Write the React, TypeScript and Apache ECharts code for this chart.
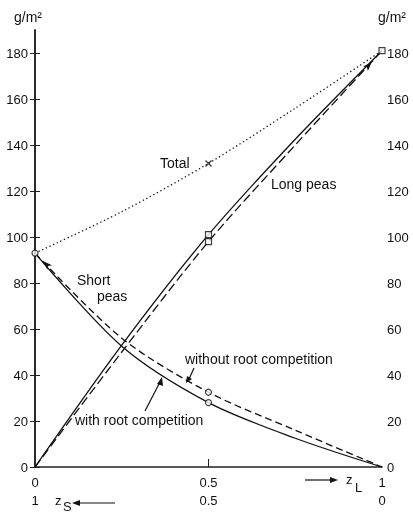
import React, { useEffect, useRef } from "react";
import * as echarts from "echarts";

const xs = [0, 0.25, 0.5, 0.75, 1];
const longWith = [0, 53, 101, 142.5, 181];
const longWithout = [0, 50, 98, 140, 181];
const shortWith = [93, 52.5, 28, 12.5, 0];
const shortWithout = [93, 56, 32.5, 16, 0];
const total = [93, 111, 132, 156, 181];
const yTicks = [0, 20, 40, 60, 80, 100, 120, 140, 160, 180];
const xTicks = [0, 0.5, 1];

const FONT = '"Liberation Sans", Arial, sans-serif';
const pts = (ys: number[]) => xs.map((x, i) => [x, ys[i]]);

export default function App() {
  const ref = useRef<HTMLDivElement>(null);
  useEffect(() => {
    if (!ref.current) return;
    const chart = echarts.init(ref.current, null, { renderer: "svg" });
    const axisLine = { show: true, lineStyle: { color: "#222", width: 1.6 } };
    const yAxisCommon = {
      type: "value",
      min: 0,
      max: 190,
      splitLine: { show: false },
      axisLine,
      axisTick: { show: true, inside: true, length: 5, customValues: yTicks, lineStyle: { color: "#222" } },
    };
    const mid = xs.indexOf(0.5);
    const text = (t: string, x: number, y: number, size = 14, align = "left") => ({
      type: "text",
      x,
      y,
      style: { text: t, font: `${size}px ${FONT}`, fill: "#111", verticalAlign: "middle", align },
    });
    const lineG = (x1: number, y1: number, x2: number, y2: number) => ({
      type: "line",
      shape: { x1, y1, x2, y2 },
      style: { stroke: "#111", lineWidth: 1.2 },
    });
    const head = (p: number[][]) => ({ type: "polygon", shape: { points: p }, style: { fill: "#111" } });
    chart.setOption({
      animation: false,
      grid: { left: 35, right: 31, top: 30, bottom: 49 },
      xAxis: [
        {
          type: "value",
          min: 0,
          max: 1,
          position: "bottom",
          splitLine: { show: false },
          axisLine,
          axisTick: { show: true, inside: true, length: 8, customValues: [0.5], lineStyle: { color: "#222" } },
          axisLabel: {
            customValues: xTicks,
            margin: 9,
            color: "#111",
            fontFamily: FONT,
            fontSize: 13,
            formatter: (v: number) => String(v),
          },
        },
        {
          type: "value",
          min: 0,
          max: 1,
          position: "bottom",
          offset: 18,
          splitLine: { show: false },
          axisLine: { show: false },
          axisTick: { show: false },
          axisLabel: {
            customValues: xTicks,
            margin: 9,
            color: "#111",
            fontFamily: FONT,
            fontSize: 13,
            formatter: (v: number) => String(Math.round((1 - v) * 10) / 10),
          },
        },
      ],
      yAxis: [
        {
          ...yAxisCommon,
          position: "left",
          axisLabel: { customValues: yTicks, margin: 7, color: "#111", fontFamily: FONT, fontSize: 13 },
        },
        {
          ...yAxisCommon,
          position: "right",
          axisLabel: { customValues: yTicks, margin: 5, color: "#111", fontFamily: FONT, fontSize: 13 },
        },
      ],
      series: [
        {
          type: "line",
          data: pts(longWith),
          smooth: 0.3,
          symbol: "none",
          lineStyle: { color: "#111", width: 1.3, type: "solid" },
          markPoint: {
            symbol: "arrow",
            symbolSize: [5, 9],
            symbolRotate: -43,
            itemStyle: { color: "#111" },
            label: { show: false },
            data: [{ coord: [0.97, 176] }],
          },
        },
        {
          type: "line",
          data: pts(longWithout),
          smooth: 0.3,
          symbol: "none",
          lineStyle: { color: "#111", width: 1.3, type: [9, 4] },
        },
        {
          type: "line",
          data: pts(shortWith),
          smooth: 0.3,
          symbol: "none",
          lineStyle: { color: "#111", width: 1.3, type: "solid" },
          markPoint: {
            symbol: "arrow",
            symbolSize: [5, 9],
            symbolRotate: 45,
            itemStyle: { color: "#111" },
            label: { show: false },
            data: [{ coord: [0.024, 89.5] }],
          },
        },
        {
          type: "line",
          data: pts(shortWithout),
          smooth: 0.3,
          symbol: "none",
          lineStyle: { color: "#111", width: 1.3, type: [7, 4] },
        },
        {
          type: "line",
          data: pts(total),
          smooth: 0.3,
          symbol: "none",
          lineStyle: { color: "#111", width: 1.3, type: [1.3, 2.7] },
        },
        {
          type: "scatter",
          symbol: "rect",
          symbolSize: 6,
          itemStyle: { color: "#fff", borderColor: "#111", borderWidth: 1.2 },
          data: [
            [xs[mid], longWith[mid]],
            [xs[mid], longWithout[mid]],
            [xs[xs.length - 1], longWith[xs.length - 1]],
          ],
          z: 5,
        },
        {
          type: "scatter",
          symbol: "circle",
          symbolSize: 6,
          itemStyle: { color: "#fff", borderColor: "#111", borderWidth: 1.2 },
          data: [
            [xs[mid], shortWith[mid]],
            [xs[mid], shortWithout[mid]],
            [xs[0], shortWith[0]],
          ],
          z: 5,
        },
        {
          type: "scatter",
          symbol: "path://M0,0L10,10M10,0L0,10",
          symbolSize: 6,
          itemStyle: { color: "none", borderColor: "#111", borderWidth: 1.4 },
          data: [[xs[mid], total[mid]]],
          z: 5,
        },
      ],
      graphic: [
        text("g/m²", 28, 17, 14, "center"),
        text("g/m²", 392, 17, 14, "center"),
        text("Total", 160, 163),
        text("Long peas", 271, 184),
        text("Short", 77, 280),
        text("peas", 97, 296),
        text("without root competition", 185, 359),
        text("with root competition", 75, 420),
        lineG(194, 368, 189, 379),
        head([[186, 383], [187, 376], [192, 379]]),
        lineG(145, 411, 160, 382),
        head([[162, 377], [157, 384], [163, 386]]),
        text("z", 55, 500, 13),
        text("S", 63, 506, 13),
        lineG(78, 503, 115, 503),
        head([[72, 503], [80, 500], [80, 506]]),
        lineG(305, 480, 330, 480),
        head([[338, 480], [330, 477], [330, 483]]),
        text("z", 346, 479, 13),
        text("L", 355, 487, 13),
      ],
    });
    return () => chart.dispose();
  }, []);
  return <div ref={ref} style={{ position: "fixed", left: 0, top: 0, width: 413, height: 516 }} />;
}
